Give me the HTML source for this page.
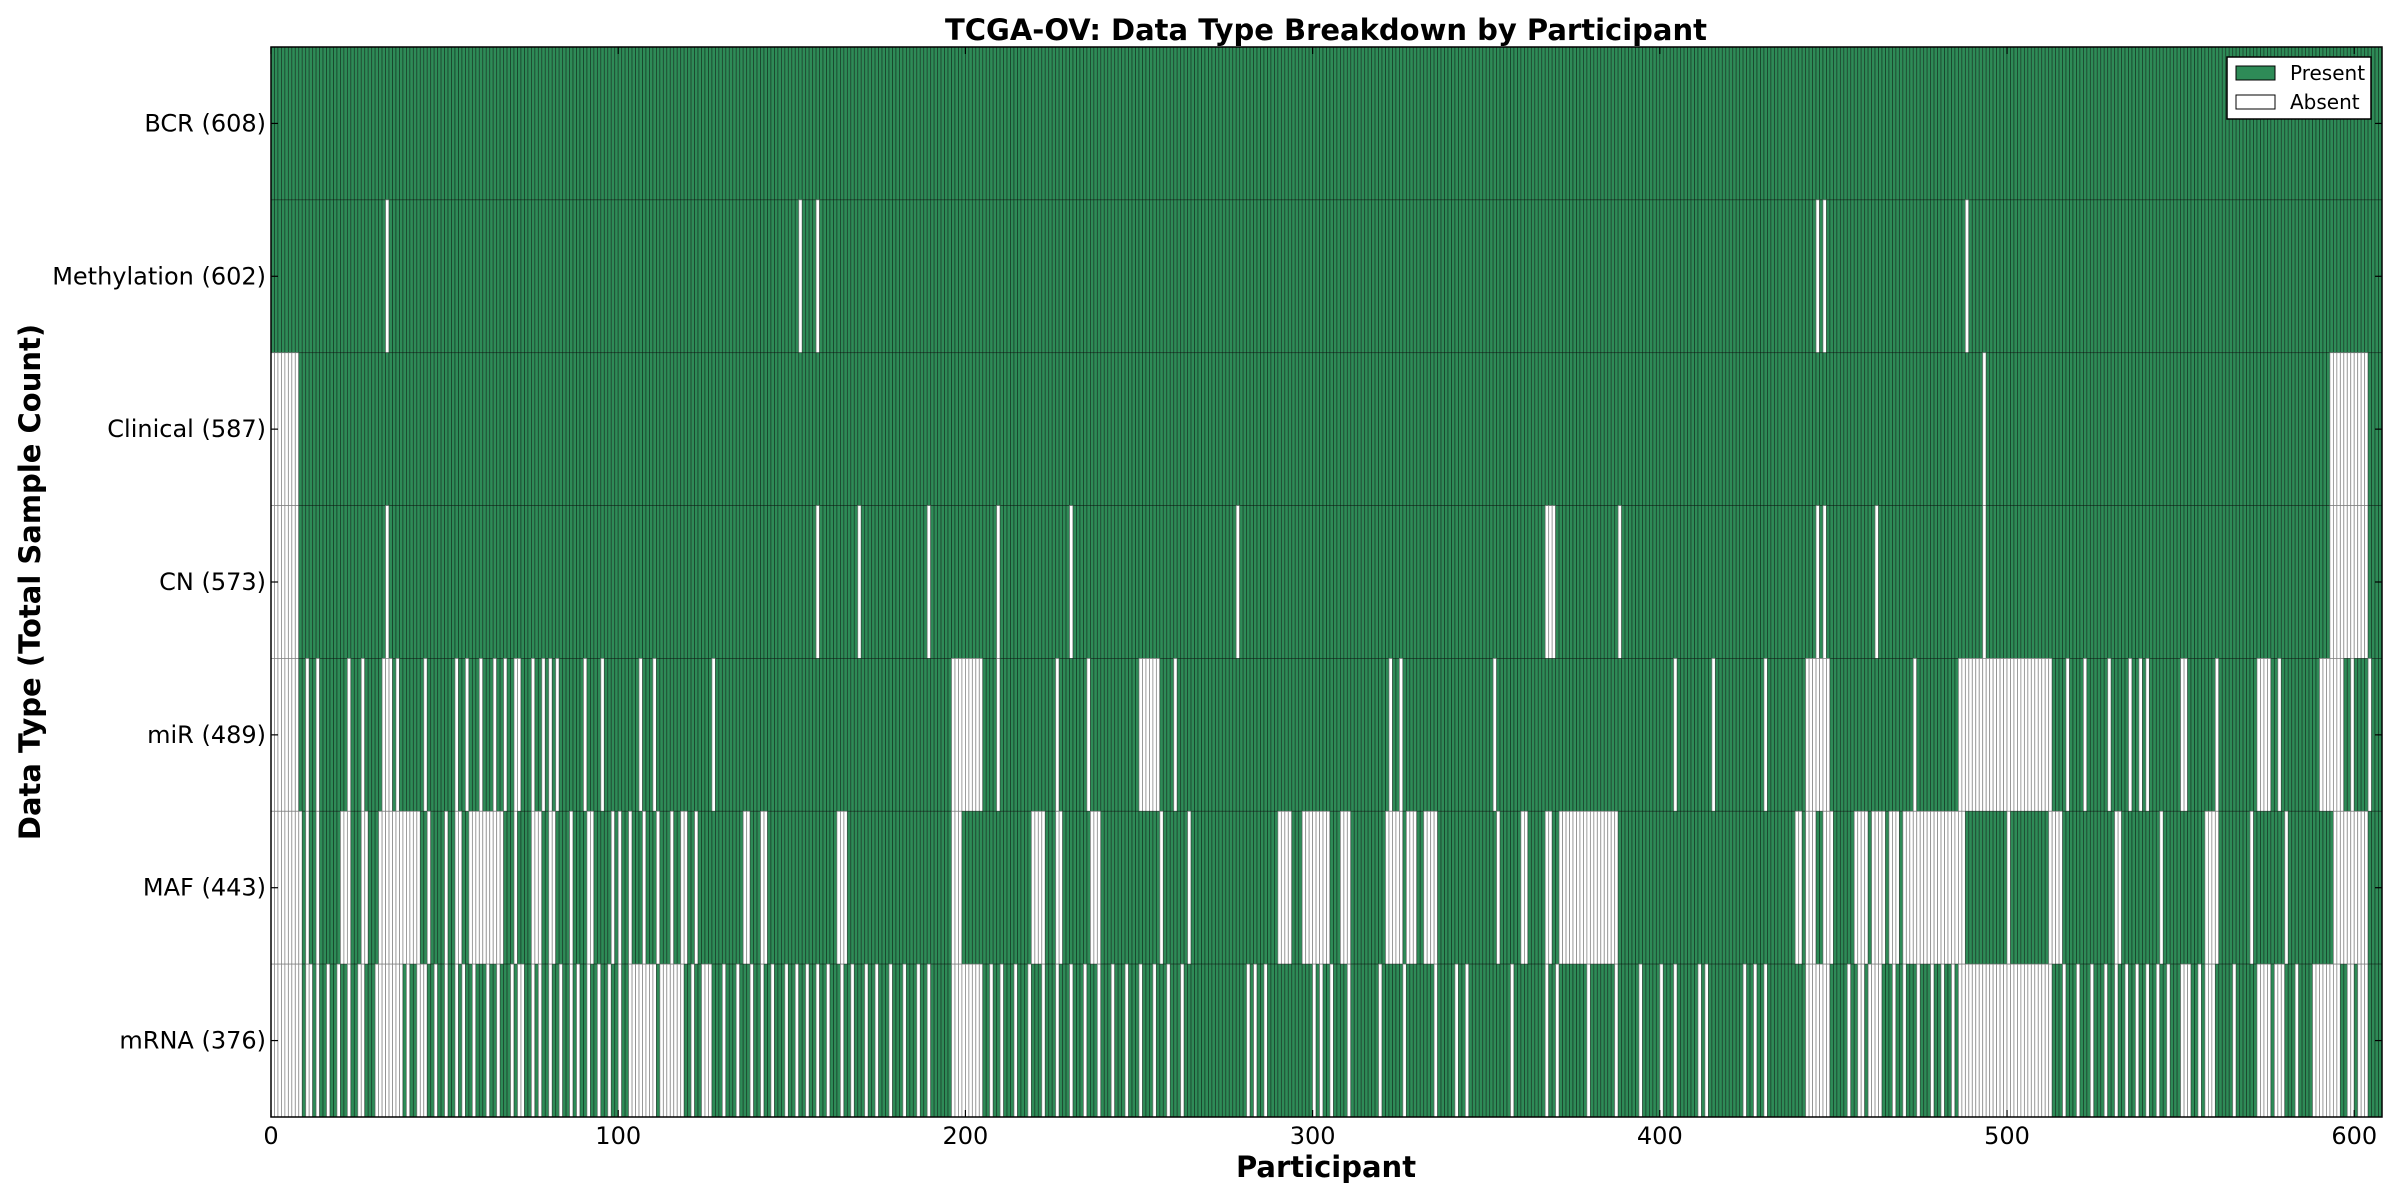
<!DOCTYPE html>
<html><head><meta charset="utf-8"><style>
html,body{margin:0;padding:0;background:#fff;width:2400px;height:1200px;overflow:hidden}
svg{display:block}
text{font-family:"DejaVu Sans","Liberation Sans",sans-serif;fill:#000}
</style></head><body>
<svg id="s" width="2400" height="1200" viewBox="0 0 2400 1200" xmlns="http://www.w3.org/2000/svg">
<text x="1326" y="40" font-size="29" font-weight="bold" text-anchor="middle">TCGA-OV: Data Type Breakdown by Participant</text>
<g id="bars"></g>
<rect x="271" y="47" width="2111" height="1070" fill="none" stroke="#000" stroke-width="1.5"/>
<g id="ticks"></g>
<text x="1326" y="1177" font-size="29" font-weight="bold" text-anchor="middle">Participant</text>
<text transform="translate(40,582) rotate(-90)" font-size="29" font-weight="bold" text-anchor="middle">Data Type (Total Sample Count)</text>
<rect x="2227" y="57" width="144" height="62" fill="#fff" stroke="#000" stroke-width="1.5"/>
<rect x="2236" y="66" width="39" height="14" fill="#2e8b57" stroke="#000" stroke-width="1"/>
<rect x="2236" y="95" width="39" height="14" fill="#fff" stroke="#000" stroke-width="1"/>
<text x="2290" y="80" font-size="20">Present</text>
<text x="2290" y="109" font-size="20">Absent</text>
</svg>
<script>
function parse(s){var o={};s.split(',').forEach(function(p){p=p.trim();if(!p)return;var a=p.split('-');var b=+a[0],e=a.length>1?+a[1]:b;for(var i=b;i<=e;i++)o[i]=1;});return o;}
var rows=[
 ["BCR (608)",""],
 ["Methylation (602)","33,152,157,445,447,488"],
 ["Clinical (587)","0-7,493,593-603"],
 ["CN (573)","0-7,33,157,169,189,209,230,278,367-369,388,445,447,462,493,593-603"],
 ["miR (489)","0-7,10,13,22,26,32-34,36,44,53,56,60,64,67,70-71,75,78,80,82,90,95,106,110,127,196-204,209,226,235,250-255,260,322,325,352,404,415,430,442-448,473,486-512,517,522,529,535,538,540,550-551,560,572-575,578,590-596,599,604"],
 ["MAF (443)","0-8,10,13,20-22,26-27,31-37,38-42,45,50,53-54,57-59,60-66,70,75-77,80-81,86,91-92,98,100,103,107,111,115,118-119,122,136-137,141-142,163-165,196-198,219-222,226-227,236-238,256,264,290-293,297-304,308-310,321-325,327-329,332-335,353,360-361,367-368,371-387,439-440,442-444,447-449,456-459,461-464,466-468,470-471,472-487,500,512-515,531-532,544,557-560,570,580,594-603"],
 ["mRNA (376)","0-8,10-11,13,16,19,22,25-26,30-37,39,42-44,47,50,53,55,58,62,65,69,71-72,75,77,80,83,86,88,91,94,97,100,103-110,112-118,121,124-126,130,134,138,141,144,148,151,154,157,160,164,167,171,174,178,182,186,189,196-204,207,210,214,218,222,226,230,234,238,242,246,250,254,258,262,281,283,286,300,302,305,310,319,326,335,341,344,357,367,370,379,387,394,400,404,411,413,424,427,430,442-448,454,457-458,460-463,467,470,474,478,481,484,486-512,516,520,524,528,531,534,537,540,543,546,550-552,555,557-559,565,572-575,577-579,583,588-595,598-599,601-603"]
];
var X0=271,W=2111,N=608,u=W/N,Y0=47,H=1070,rh=H/7,h='';
rows.forEach(function(r,k){var ab=parse(r[1]);var y=Y0+rh*k;
 for(var i=0;i<N;i++){var a=ab[i];
  h+='<rect x="'+(X0+i*u).toFixed(2)+'" y="'+y.toFixed(2)+'" width="'+u.toFixed(3)+'" height="'+rh.toFixed(2)+'" fill="'+(a?'#fff':'#2e8b57')+'" stroke="'+(a?'#777':'#000')+'" stroke-opacity="'+(a?0.8:0.45)+'" stroke-width="0.8"/>';}
});
document.getElementById('bars').innerHTML=h;
var t='';
rows.forEach(function(r,k){var cy=Y0+rh*(k+0.5);
 t+='<line x1="271" y1="'+cy+'" x2="278" y2="'+cy+'" stroke="#000" stroke-width="1.2"/><line x1="2375" y1="'+cy+'" x2="2382" y2="'+cy+'" stroke="#000" stroke-width="1.2"/>';
 t+='<text x="266" y="'+(cy+8)+'" font-size="24" text-anchor="end">'+r[0]+'</text>';});
for(var v=0;v<=600;v+=100){var x=X0+v*u;
 t+='<line x1="'+x+'" y1="1117" x2="'+x+'" y2="1110" stroke="#000" stroke-width="1.2"/><line x1="'+x+'" y1="47" x2="'+x+'" y2="54" stroke="#000" stroke-width="1.2"/>';
 t+='<text x="'+x+'" y="1144" font-size="24" text-anchor="middle">'+v+'</text>';}
document.getElementById('ticks').innerHTML=t;
</script>
</body></html>
